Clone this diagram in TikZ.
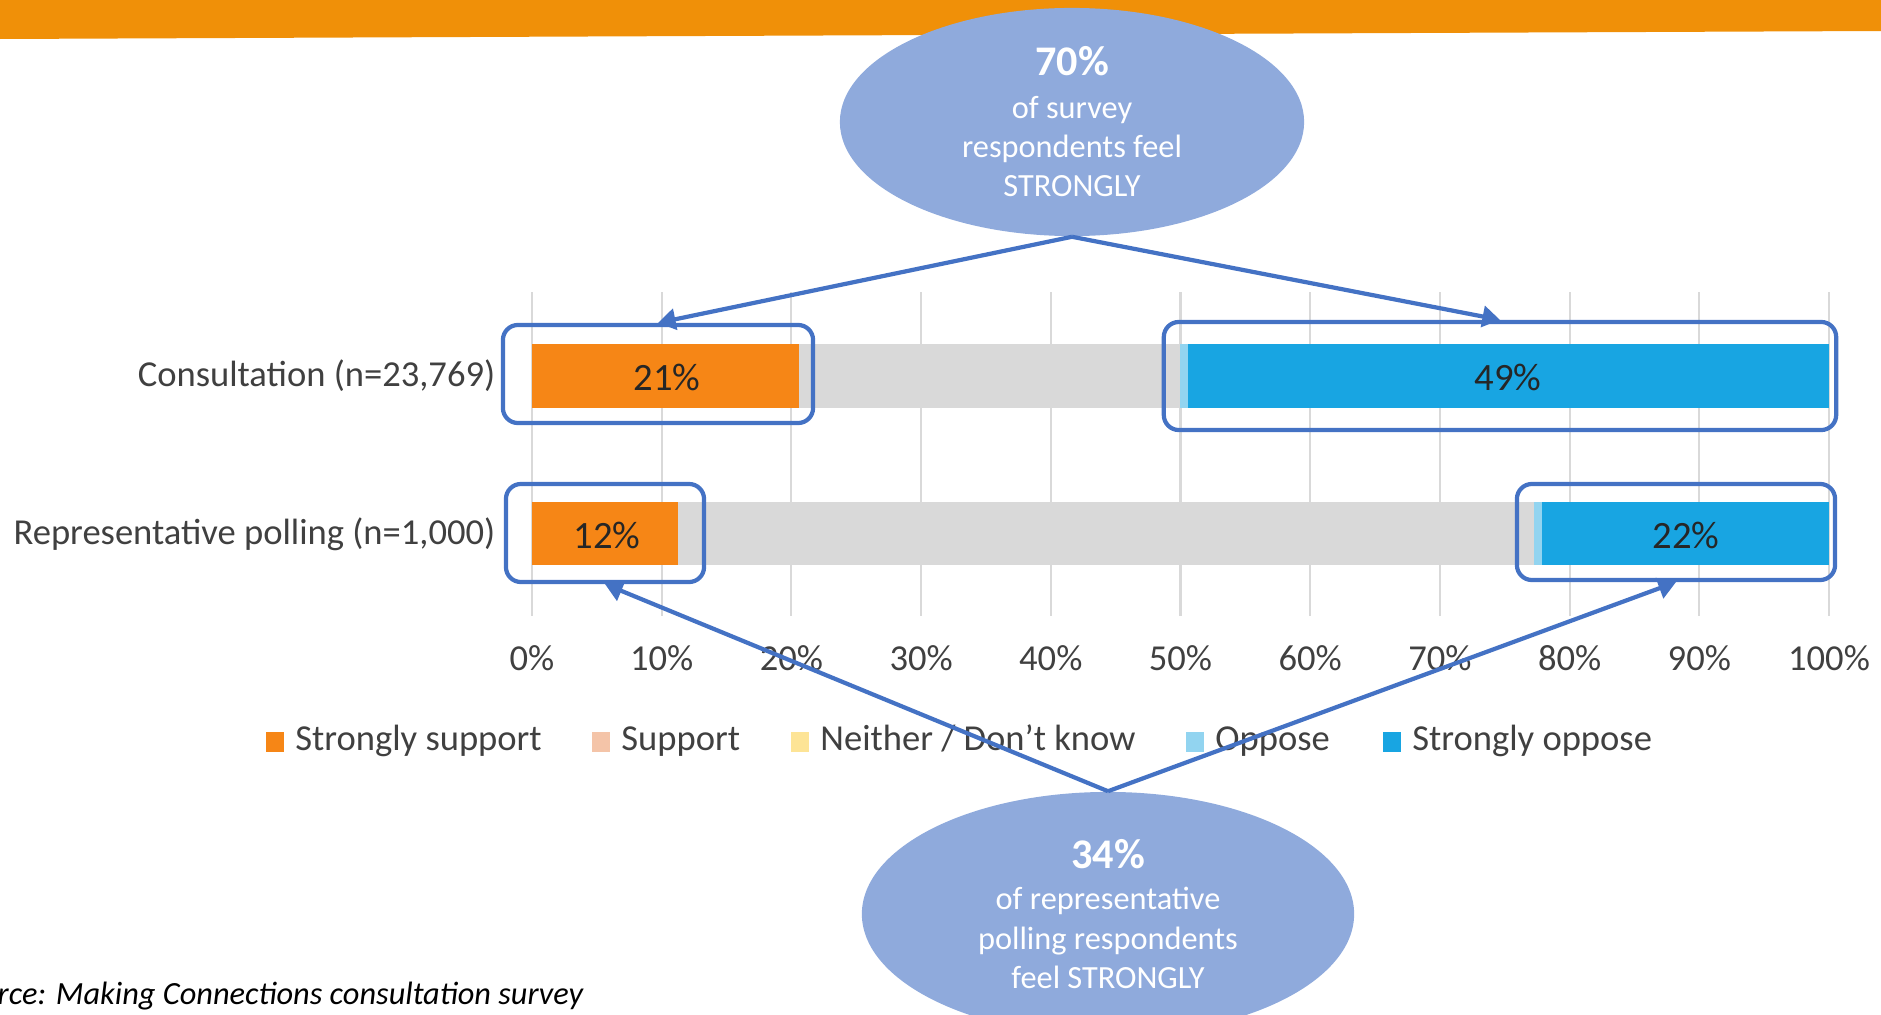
\documentclass[tikz,border=0pt]{standalone}
\usepackage{fontspec}
\setmainfont{Carlito}
\usetikzlibrary{positioning}
\usetikzlibrary{shapes.geometric}
\usetikzlibrary{arrows.meta}

\definecolor{bandorange}{RGB}{240,144,8}
\definecolor{bubble}{RGB}{143,170,220}
\definecolor{callblue}{RGB}{68,114,196}
\definecolor{ssupport}{RGB}{246,134,22}
\definecolor{support}{RGB}{244,196,168}
\definecolor{neither}{RGB}{253,228,150}
\definecolor{oppose}{RGB}{146,212,240}
\definecolor{soppose}{RGB}{24,165,226}
\definecolor{midgray}{RGB}{217,217,217}
\definecolor{axistext}{RGB}{64,64,64}

\begin{document}
\begin{tikzpicture}[x=0.01cm,y=-0.01cm,
    bubblenode/.style={ellipse,fill=bubble,text=white,align=center,inner sep=0pt,font=\fontsize{9.2}{11.2}\selectfont},
    hlbox/.style={draw=callblue,line width=1.2pt,rounded corners=0.15cm,inner sep=0pt},
    callout/.style={draw=callblue,line width=1.2pt,-{Triangle[length=5pt,width=6pt]}},
    chartlbl/.style={text=axistext,font=\fontsize{10.4}{12}\selectfont,inner sep=0pt},
    legtxt/.style={chartlbl,text height=0.75em,text depth=0.25em},
    barlbl/.style={text=black!85,font=\fontsize{11}{13}\selectfont,inner sep=0pt},
    legsq/.style={minimum width=0.18cm,minimum height=0.2cm,inner sep=0pt}]
\useasboundingbox (0,0) rectangle (1881,1015);
% header band
\fill[bandorange] (0,0) -- (1881,0) -- (1881,31) -- (0,39) -- cycle;
% grid and axis
\foreach \p in {0,10,...,100}{
    \draw[midgray,line width=0.6pt] ({532+12.97*\p},292) -- ({532+12.97*\p},616);
    \node[chartlbl] (tick\p) at ({532+12.97*\p},658) {\p\%};
}
% consultation bar
\fill[ssupport] (532,344) rectangle (799,408);
\fill[midgray] (799,344) rectangle (1180,408);
\fill[oppose] (1180,344) rectangle (1188,408);
\fill[soppose] (1188,344) rectangle (1829,408);
% polling bar
\fill[ssupport] (532,502) rectangle (678,565);
\fill[midgray] (678,502) rectangle (1534,565);
\fill[oppose] (1534,502) rectangle (1542,565);
\fill[soppose] (1542,502) rectangle (1829,565);
% labels
\node[chartlbl,anchor=east] (cons) at (496,376) {Consultation (n=23,769)};
\node[chartlbl,anchor=east] (poll) at (496,534) {Representative polling (n=1,000)};
\node[barlbl] (v1) at (667,377) {21\%};
\node[barlbl] (v2) at (1508,377) {49\%};
\node[barlbl] (v3) at (607,535) {12\%};
\node[barlbl] (v4) at (1686,535) {22\%};
% legend
\node[legsq,fill=ssupport] (k1) at (275,742) {};
\node[legtxt,right=0.1cm of k1] (l1) {Strongly support};
\node[legsq,fill=support] (k2) at (601,742) {};
\node[legtxt,right=0.1cm of k2] (l2) {Support};
\node[legsq,fill=neither] (k3) at (800,742) {};
\node[legtxt,right=0.1cm of k3] (l3) {Neither / Don’t know};
\node[legsq,fill=oppose] (k4) at (1195,742) {};
\node[legtxt,right=0.1cm of k4] (l4) {Oppose};
\node[legsq,fill=soppose] (k5) at (1392,742) {};
\node[legtxt,right=0.1cm of k5] (l5) {Strongly oppose};
% highlight boxes
\node[hlbox,minimum width=3.1cm,minimum height=0.98cm] (b1) at (658,374) {};
\node[hlbox,minimum width=6.72cm,minimum height=1.08cm] (b2) at (1500,376) {};
\node[hlbox,minimum width=1.98cm,minimum height=0.98cm] (b3) at (605,533) {};
\node[hlbox,minimum width=3.18cm,minimum height=0.96cm] (b4) at (1676,532) {};
% bubbles
\node[bubblenode,minimum width=4.64cm,minimum height=2.28cm] (top) at (1072,122)
    {{\bfseries\fontsize{12}{14}\selectfont 70\%}\\[0.8pt]of survey\\respondents feel\\STRONGLY};
\node[bubblenode,minimum width=4.92cm,minimum height=2.44cm] (bot) at (1108,914)
    {{\bfseries\fontsize{12}{14}\selectfont 34\%}\\[0.6pt]of representative\\polling respondents\\feel STRONGLY};
\draw[callout] (top.south) -- (b1.north);
\draw[callout] (top.south) -- (b2.north);
\draw[callout] (bot.north) -- (b3.south);
\draw[callout] (bot.north) -- (b4.south);
% source
\node[anchor=west,inner sep=0pt,font=\itshape\fontsize{9.2}{11}\selectfont] (src) at (-3,996)
    {rce: Making Connections consultation survey};
\end{tikzpicture}
\end{document}
